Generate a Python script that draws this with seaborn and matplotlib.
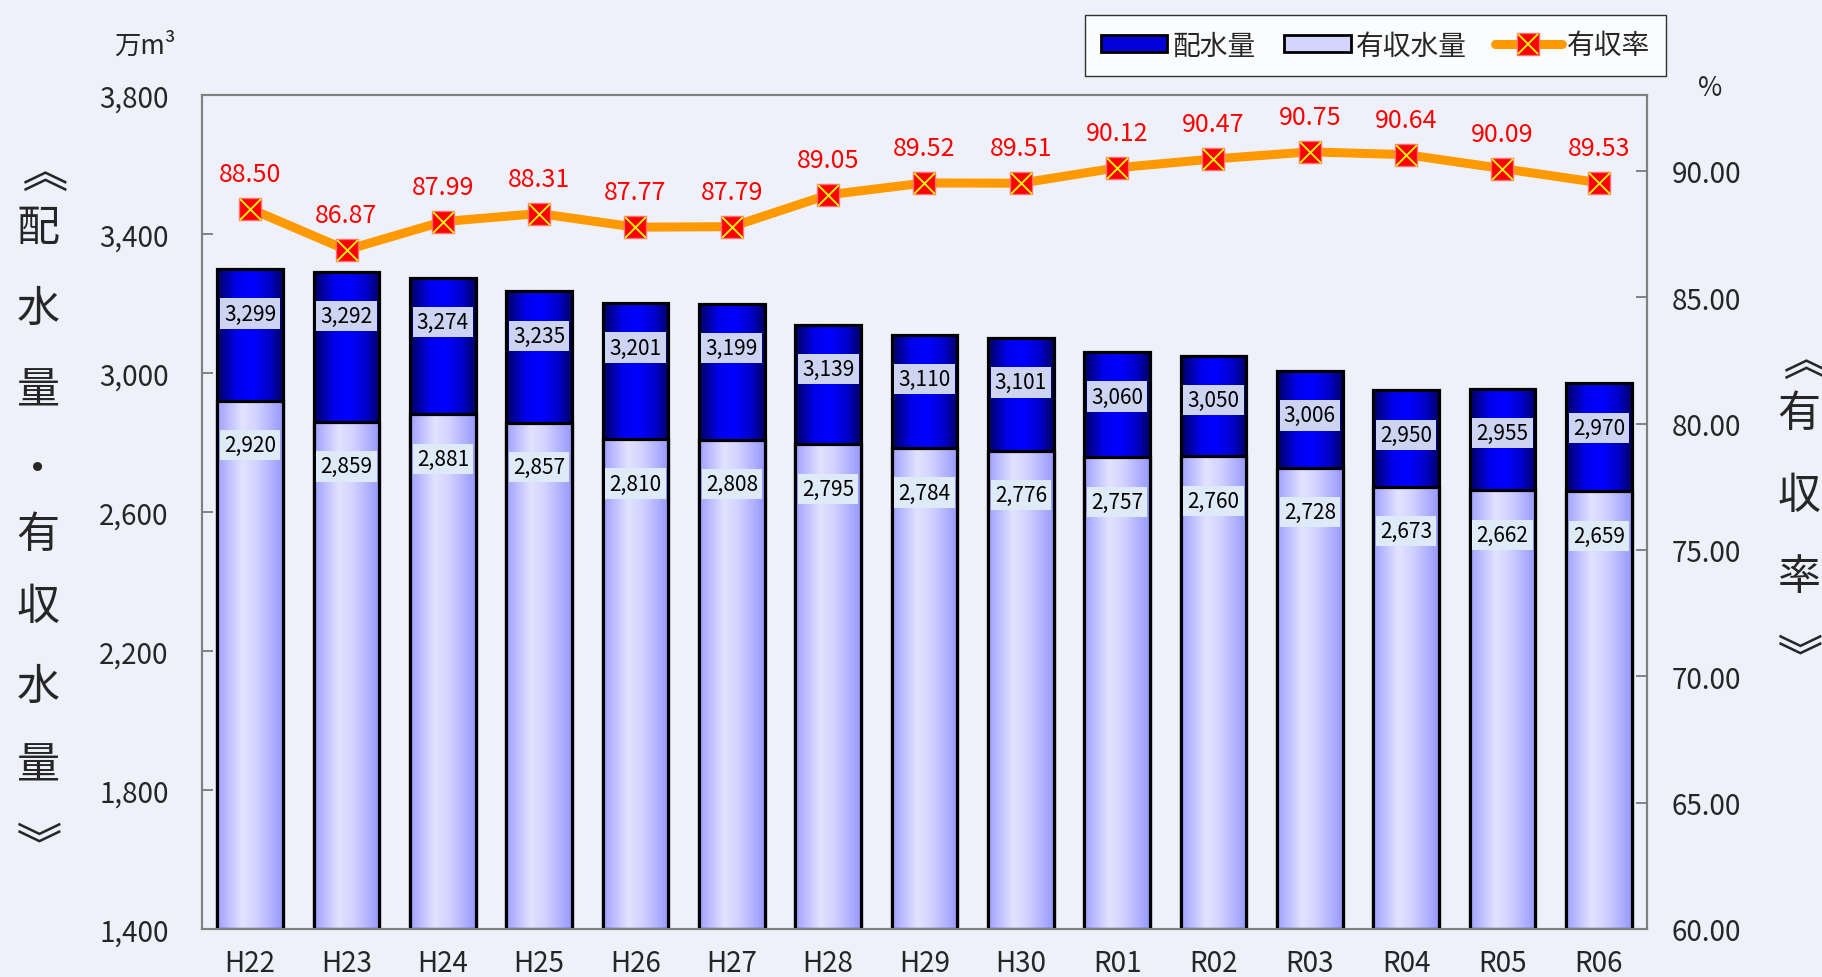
import numpy as np
import matplotlib.pyplot as plt
import pandas as pd
import seaborn as sns
from matplotlib.colors import LinearSegmentedColormap
from matplotlib.lines import Line2D
from matplotlib.patches import Patch, Rectangle
from matplotlib.textpath import TextPath
from matplotlib.font_manager import FontProperties

years = ["H22", "H23", "H24", "H25", "H26", "H27", "H28", "H29", "H30",
         "R01", "R02", "R03", "R04", "R05", "R06"]
haisui = [3299, 3292, 3274, 3235, 3201, 3199, 3139, 3110, 3101, 3060, 3050, 3006, 2950, 2955, 2970]
yushu = [2920, 2859, 2881, 2857, 2810, 2808, 2795, 2784, 2776, 2757, 2760, 2728, 2673, 2662, 2659]
rate = [88.50, 86.87, 87.99, 88.31, 87.77, 87.79, 89.05, 89.52, 89.51, 90.12, 90.47, 90.75, 90.64, 90.09, 89.53]

df = pd.DataFrame({"year": years, "haisui": haisui, "yushu": yushu, "rate": rate})

sns.set_theme(style="white")
plt.rcParams['font.family'] = ['Noto Sans CJK JP', 'DejaVu Sans']

bg = '#eef1f9'
W, H = 1822, 978
fig = plt.figure(figsize=(W / 100, H / 100), dpi=100, facecolor=bg)
ax = fig.add_axes([202 / W, 1 - 930 / H, (1647 - 202) / W, (930 - 96) / H])
ax.set_facecolor(bg)

sns.barplot(data=df, x="year", y="haisui", color="#0000ff", saturation=1, width=0.68,
            errorbar=None, ax=ax)
n_dark = len(ax.patches)
sns.barplot(data=df, x="year", y="yushu", color="#c0c0ff", saturation=1, width=0.68,
            errorbar=None, ax=ax)

# horizontal gradients like the original office chart
dark_cmap = LinearSegmentedColormap.from_list("dark", [(0, "#000060"), (0.3, "#0000ee"), (0.55, "#0000ff"),
                                                       (0.8, "#0000c8"), (1, "#000066")])
light_cmap = LinearSegmentedColormap.from_list("light", [(0, "#a0a0ff"), (0.38, "#e2e2ff"), (0.6, "#d2d2ff"),
                                                         (1, "#9898ff")])
grad = np.linspace(0, 1, 256).reshape(1, -1)

for k, p in enumerate(list(ax.patches)):
    dark = k < n_dark
    z = 1.5 if dark else 2.5
    x0, w, h = p.get_x(), p.get_width(), p.get_height()
    p.set_facecolor('none')
    p.set_edgecolor('none')
    im = ax.imshow(grad, cmap=dark_cmap if dark else light_cmap, aspect='auto',
                   extent=[x0, x0 + w, 1400, h], zorder=z)
    im.set_clip_path(p)
    ax.add_patch(Rectangle((x0, 1400), w, h - 1400, fill=False, edgecolor='black',
                           linewidth=2.3, zorder=z + 0.2))

ax.set_xlim(-0.5, len(years) - 0.5)
ax.set_ylim(1400, 3800)
ax.set_yticks(range(1400, 3801, 400))
ax.set_yticklabels([f"{v:,}" for v in range(1400, 3801, 400)])
ax.set_xlabel("")
ax.set_ylabel("")
ax.tick_params(axis='y', direction='in', length=8, width=1.2, color='#707070', labelsize=20, pad=24)
ax.tick_params(axis='x', length=0, labelsize=20, pad=14)
for s in ax.spines.values():
    s.set_color('#808080')
    s.set_linewidth(1.5)

for i, (a, b) in enumerate(zip(haisui, yushu)):
    ax.annotate(f"{a:,}", xy=(i, a), xytext=(0, -32), textcoords='offset points', ha='center', va='center',
                fontsize=15, color='black', zorder=6,
                bbox=dict(boxstyle='square,pad=0.2', fc='#ccd4f2', ec='none'))
    ax.annotate(f"{b:,}", xy=(i, b), xytext=(0, -32), textcoords='offset points', ha='center', va='center',
                fontsize=15, color='black', zorder=6,
                bbox=dict(boxstyle='square,pad=0.2', fc='#dfeaf8', ec='none'))

ax2 = ax.twinx()
x = np.arange(len(years))
sns.lineplot(x=x, y=rate, color='#ff9900', linewidth=6.5, marker='s', markersize=16,
             markerfacecolor='#ff0000', markeredgecolor='#ff7070', markeredgewidth=1, ax=ax2, zorder=4)
sns.scatterplot(x=x, y=rate, marker='x', color='#ffff00', s=230, linewidth=1.3, ax=ax2, zorder=5)
ax2.set_ylim(60, 93)
ax2.set_yticks(range(60, 91, 5))
ax2.set_yticklabels([f"{v:.2f}" for v in range(60, 91, 5)])
ax2.tick_params(axis='y', direction='in', length=8, width=1.2, color='#707070', labelsize=20, pad=18)
for s in ax2.spines.values():
    s.set_color('#808080')
    s.set_linewidth(1.5)
for i, r in enumerate(rate):
    ax2.annotate(f"{r:.2f}", xy=(i, r), xytext=(0, 25), textcoords='offset points', ha='center', va='center',
                 fontsize=18, color='#ff0000')

cjk = FontProperties(family='Noto Sans CJK JP')


def side_char(xpx, ypx, c, fs=31):
    # brackets are drawn turned a quarter, centred on their ink
    if c in "《》":
        fs = 33
        bb = TextPath((0, 0), c, size=fs, prop=cjk).get_extents()
        cx = (bb.x0 + bb.x1) / 2
        cy = (bb.y0 + bb.y1) / 2
        shift = 0.75 * bb.x0 / 72  # turned glyphs land off by part of their side bearing
        tx, ty = xpx / 100, (H - ypx) / 100
        fig.text(tx - cy / 72 - shift, ty + cx / 72 - shift, c, fontsize=fs, rotation=-90,
                 rotation_mode='anchor', ha='left', va='baseline', transform=fig.dpi_scale_trans)
    else:
        fig.text(xpx / W, 1 - ypx / H, c, fontsize=fs, ha='center', va='center')


left_chars = ["《", "配", "水", "量", "・", "有", "収", "水", "量", "》"]
left_y = [186, 229, 310, 392, 471, 536, 608, 688, 767, 831]
for c, y in zip(left_chars, left_y):
    side_char(38, y, c)
right_chars = ["《", "有", "収", "率", "》"]
right_y = [374, 415, 497, 578, 643]
for c, y in zip(right_chars, right_y):
    side_char(1799, y, c)

fig.text(145 / W, 1 - 46 / H, "万m³", fontsize=19, ha='center', va='center')
fig.text(1710 / W, 1 - 89 / H, "%", fontsize=19, ha='center', va='center')

handles = [Patch(facecolor='#0000d8', edgecolor='black', linewidth=2),
           Patch(facecolor='#d4d4ff', edgecolor='black', linewidth=2),
           (Line2D([], [], color='#ff9900', linewidth=6.5),
            Line2D([], [], marker='s', markersize=16, markerfacecolor='#ff0000', markeredgecolor='#ff7070',
                   linestyle='none'),
            Line2D([], [], marker='x', markersize=15, color='#ffff00', markeredgewidth=1.3, linestyle='none'))]
leg = fig.legend(handles, ["配水量", "有収水量", "有収率"], loc='center',
                 bbox_to_anchor=((1089 + 1662) / 2 / W, 1 - 46.5 / H), ncol=3, fontsize=20,
                 frameon=True, fancybox=False, edgecolor='black', facecolor='white',
                 handlelength=2.4, handleheight=0.55, handletextpad=0.2, columnspacing=1.0,
                 borderpad=0.55)
leg.get_frame().set_linewidth(1)

fig.savefig("out.png", dpi=100, facecolor=bg)
